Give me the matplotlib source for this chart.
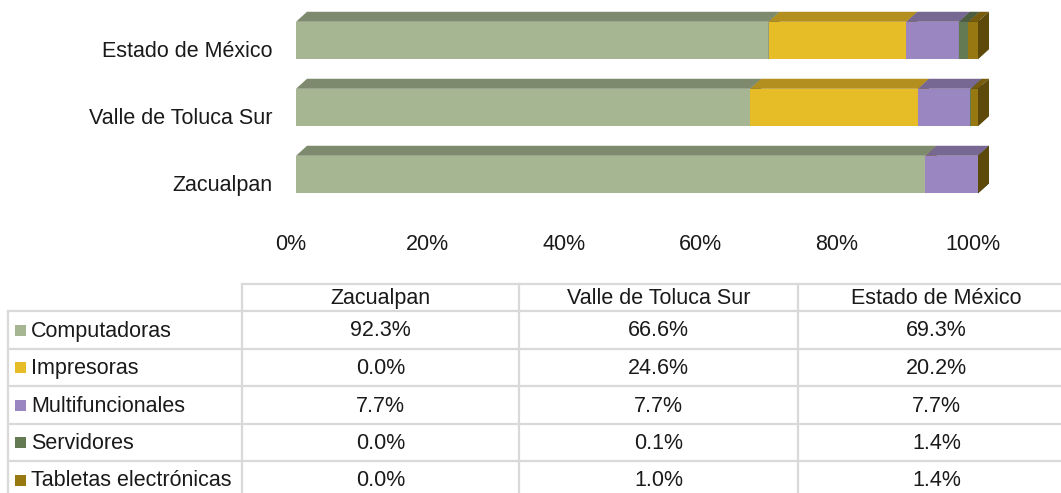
import numpy as np
import matplotlib
matplotlib.use("Agg")
import matplotlib.pyplot as plt
from matplotlib.patches import Polygon, Rectangle
from matplotlib.transforms import ScaledTranslation

plt.rcParams['font.family'] = ['Liberation Sans', 'DejaVu Sans']

# data
regions = ["Zacualpan", "Valle de Toluca Sur", "Estado de México"]
series = ["Computadoras", "Impresoras", "Multifuncionales", "Servidores", "Tabletas electrónicas"]
computadoras = [92.3, 66.6, 69.3]
impresoras = [0.0, 24.6, 20.2]
multifuncionales = [7.7, 7.7, 7.7]
servidores = [0.0, 0.1, 1.4]
tabletas = [0.0, 1.0, 1.4]
values = [computadoras, impresoras, multifuncionales, servidores, tabletas]
ticks = [0, 20, 40, 60, 80, 100]

# front / top / side colours
front = ["#a6b592", "#e6bc27", "#9a86c0", "#647a52", "#987810"]
top = ["#7e8a6d", "#b38f1f", "#776893", "#4d5e40", "#765c0c"]
side = ["#6c7760", "#9c7c1a", "#665980", "#415036", "#5d4a0b"]

W, H = 1061, 493
fig = plt.figure(figsize=(W / 100, H / 100), dpi=100)

# ---- 3D-ish stacked bars ----
ax = fig.add_axes([296 / W, (H - 215) / H, (978 - 296) / W, 215 / H])
ax.set_xlim(0, 100)
ax.set_ylim(-0.604, 2.605)
ypos = np.arange(len(regions))
bh = 0.56
dx = 11 / 6.82   # depth in x units
dy = 10 / 67     # depth in y units

left = np.zeros(len(regions))
for vals, fc, tc, sc in zip(values, front, top, side):
    vals = np.array(vals)
    ax.barh(ypos, vals, left=left, height=bh, color=fc, linewidth=0)
    for y, l, v in zip(ypos, left, vals):
        r = l + v
        t = y + bh / 2
        b = y - bh / 2
        ax.add_patch(Polygon([(l, t), (r, t), (r + dx, t + dy), (l + dx, t + dy)],
                             closed=True, facecolor=tc, edgecolor='none', clip_on=False))
        ax.add_patch(Polygon([(r, b), (r, t), (r + dx, t + dy), (r + dx, b + dy)],
                             closed=True, facecolor=sc, edgecolor='none', clip_on=False))
    left = left + vals

ax.set_xticks(ticks, [f"{t}%" for t in ticks])
ax.set_yticks(ypos, regions)
ax.tick_params(axis='x', length=0, pad=14, labelsize=15.5, labelcolor='#1a1a1a')
ax.tick_params(axis='y', length=0, pad=17, labelsize=15.5, labelcolor='#1a1a1a')
for lab in ax.get_xticklabels():
    lab.set_transform(lab.get_transform() + ScaledTranslation(-5 / 100, 0, fig.dpi_scale_trans))
for lab in ax.get_yticklabels():
    lab.set_transform(lab.get_transform() + ScaledTranslation(0, -8 / 100, fig.dpi_scale_trans))
for s in ax.spines.values():
    s.set_visible(False)

# ---- data table ----
tax = fig.add_axes([0, 0, 1, 1], zorder=-1)
tax.set_xlim(0, W)
tax.set_ylim(H, 0)
tax.axis('off')

rows = [284, 311, 349, 386, 424, 461, 499]
cols = [8, 242, 519, 798, 1075]
gc = "#d9d9d9"
lw = 1.6
tax.plot([cols[1], cols[-1]], [rows[0], rows[0]], color=gc, lw=lw)
for y in rows[1:]:
    tax.plot([cols[0], cols[-1]], [y, y], color=gc, lw=lw)
tax.plot([cols[0], cols[0]], [rows[1], rows[-1]], color=gc, lw=lw)
for x in cols[1:-1]:
    tax.plot([x, x], [rows[0], rows[-1]], color=gc, lw=lw)

for j, reg in enumerate(regions):
    cx = (cols[j + 1] + cols[j + 2]) / 2
    tax.text(cx, (rows[0] + rows[1]) / 2 + 1, reg, ha='center', va='center',
             fontsize=15.5, color='#1a1a1a')

for i, (name, vals, fc) in enumerate(zip(series, values, front)):
    cy = (rows[i + 1] + rows[i + 2]) / 2
    tax.add_patch(Rectangle((15, cy - 5.5), 11, 11, facecolor=fc, edgecolor='none'))
    tax.text(31, cy + 1, name, ha='left', va='center', fontsize=15.5, color='#1a1a1a')
    for j, v in enumerate(vals):
        cx = (cols[j + 1] + cols[j + 2]) / 2
        tax.text(cx, cy + 1, f"{v:.1f}%", ha='center', va='center',
                 fontsize=15.5, color='#1a1a1a')

fig.savefig("out.png", dpi=100)
